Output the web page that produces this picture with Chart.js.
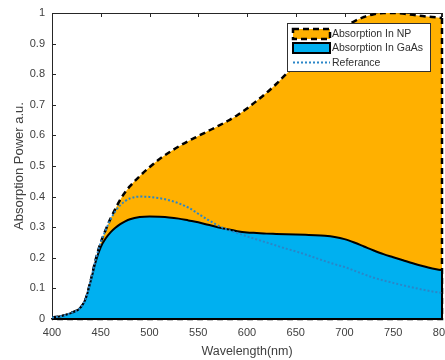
<!DOCTYPE html>
<html>
<head>
<meta charset="utf-8">
<script src="https://cdn.jsdelivr.net/npm/chart.js@4.4.1/dist/chart.umd.min.js"></script>
<style>
  html, body { margin: 0; padding: 0; background: #ffffff; }
  #wrap { width: 445px; height: 360px; }
</style>
</head>
<body>
<div id="wrap"><canvas id="chart" width="445" height="360"></canvas></div>
<script>
// Wavelength grid (nm)
const wavelengths = [400, 410, 420, 430, 435, 440, 445, 450, 455, 460, 465, 470, 475, 480, 490,
  500, 510, 520, 530, 540, 550, 560, 570, 580, 590, 600, 610, 620, 630, 640, 650, 660, 670,
  680, 690, 700, 710, 720, 730, 740, 750, 760, 770, 780, 790, 800];

// Absorbed power in the nanoparticle structure (a.u.)
const absorptionNP = [0.005, 0.010, 0.020, 0.040, 0.070, 0.130, 0.197, 0.250, 0.291, 0.328, 0.360, 0.390, 0.414, 0.434, 0.467,
  0.496, 0.522, 0.544, 0.564, 0.582, 0.598, 0.614, 0.630, 0.647, 0.666, 0.688, 0.713, 0.739, 0.768, 0.800, 0.830, 0.859, 0.887,
  0.913, 0.936, 0.956, 0.973, 0.987, 0.996, 1.000, 1.000, 0.998, 0.994, 0.990, 0.987, 0.984];

// Absorbed power in the GaAs layer (a.u.)
const absorptionGaAs = [0.005, 0.010, 0.020, 0.040, 0.070, 0.128, 0.190, 0.235, 0.263, 0.283, 0.298, 0.310, 0.319, 0.326, 0.333,
  0.335, 0.334, 0.332, 0.328, 0.322, 0.316, 0.308, 0.300, 0.293, 0.287, 0.283, 0.281, 0.279, 0.278, 0.277, 0.276, 0.275, 0.274,
  0.272, 0.268, 0.261, 0.250, 0.237, 0.224, 0.212, 0.202, 0.192, 0.182, 0.173, 0.165, 0.159];

// Reference (bare) absorption (a.u.)
const reference = [0.005, 0.010, 0.020, 0.040, 0.070, 0.130, 0.197, 0.250, 0.290, 0.325, 0.352, 0.372, 0.385, 0.394, 0.400,
  0.399, 0.395, 0.388, 0.378, 0.364, 0.344, 0.324, 0.306, 0.292, 0.281, 0.270, 0.260, 0.250, 0.240, 0.230, 0.221, 0.211, 0.200,
  0.189, 0.179, 0.170, 0.158, 0.146, 0.135, 0.126, 0.118, 0.110, 0.103, 0.096, 0.090, 0.085];

const xTicks = [400, 450, 500, 550, 600, 650, 700, 750, 800];
const yTicks = [0, 0.1, 0.2, 0.3, 0.4, 0.5, 0.6, 0.7, 0.8, 0.9, 1];
const yTickLabels = ['0', '0.1', '0.2', '0.3', '0.4', '0.5', '0.6', '0.7', '0.8', '0.9', '1'];

const ORANGE = '#FFB000';
const BLUE = '#00B0F0';
const DOT_BLUE = '#2A86C8';
const FONT = '"Liberation Sans", Arial, sans-serif';
const TEXT = '#404040';

const toPoints = (vals) => vals.map((v, i) => ({ x: wavelengths[i], y: v }));

// Box, inward ticks and closing edges of the filled areas
const areaFrame = {
  id: 'areaFrame',
  beforeDatasetsDraw(chart) {
    const { ctx, chartArea: a, scales: { x, y } } = chart;
    ctx.save();
    ctx.strokeStyle = '#262626';
    ctx.lineWidth = 1;
    ctx.beginPath();
    ctx.moveTo(a.left, a.top + 0.5); ctx.lineTo(a.right, a.top + 0.5);
    ctx.moveTo(a.right - 0.5, a.top); ctx.lineTo(a.right - 0.5, a.bottom);
    xTicks.forEach(v => {
      const px = Math.round(x.getPixelForValue(v)) + 0.5;
      ctx.moveTo(px, a.top); ctx.lineTo(px, a.top + 4);
      ctx.moveTo(px, a.bottom); ctx.lineTo(px, a.bottom - 4);
    });
    yTicks.forEach(v => {
      const py = Math.round(y.getPixelForValue(v)) + 0.5;
      ctx.moveTo(a.left, py); ctx.lineTo(a.left + 4, py);
      ctx.moveTo(a.right, py); ctx.lineTo(a.right - 4, py);
    });
    ctx.stroke();
    ctx.restore();
  },
  afterDatasetDraw(chart, args) {
    const ds = chart.data.datasets[args.index];
    if (!ds.fill) return;
    const { ctx, scales: { x, y } } = chart;
    const first = ds.data[0];
    const last = ds.data[ds.data.length - 1];
    const px = x.getPixelForValue(last.x);
    const base = y.getPixelForValue(0);
    ctx.save();
    ctx.strokeStyle = ds.borderColor;
    ctx.lineWidth = ds.borderWidth;
    ctx.setLineDash(ds.borderDash || []);
    ctx.beginPath();
    ctx.moveTo(px, y.getPixelForValue(last.y));
    ctx.lineTo(px, base);
    ctx.lineTo(x.getPixelForValue(first.x), base);
    ctx.stroke();
    ctx.restore();
  }
};

// Boxed legend inside the upper right of the plot
const legendBox = {
  id: 'legendBox',
  afterDraw(chart) {
    const { ctx, chartArea: a } = chart;
    const left = a.right - 155, top = a.top + 10, w = 144, h = 49;
    ctx.save();
    ctx.fillStyle = '#ffffff';
    ctx.fillRect(left, top, w, h);
    ctx.strokeStyle = '#303030';
    ctx.lineWidth = 1;
    ctx.setLineDash([]);
    ctx.strokeRect(left + 0.5, top + 0.5, w - 1, h - 1);

    const sx = left + 6, sw = 37;
    const items = chart.data.datasets.slice().reverse();
    const rows = [top + 11, top + 25, top + 39.5];
    items.forEach((ds, i) => {
      const cy = rows[i];
      if (ds.fill) {
        ctx.fillStyle = ds.backgroundColor;
        ctx.fillRect(sx, cy - 5, sw, 10);
        ctx.strokeStyle = ds.borderColor;
        ctx.lineWidth = ds.borderWidth;
        ctx.setLineDash(ds.borderDash || []);
        ctx.strokeRect(sx, cy - 5, sw, 10);
      } else {
        ctx.strokeStyle = ds.borderColor;
        ctx.lineWidth = ds.borderWidth;
        ctx.setLineDash(ds.borderDash || []);
        ctx.beginPath();
        ctx.moveTo(sx, cy); ctx.lineTo(sx + sw, cy);
        ctx.stroke();
      }
      ctx.setLineDash([]);
      ctx.fillStyle = '#303030';
      ctx.font = '10.5px ' + FONT;
      ctx.textBaseline = 'middle';
      ctx.textAlign = 'left';
      ctx.fillText(ds.label, sx + sw + 2, cy + 0.5);
    });
    ctx.restore();
  }
};

new Chart(document.getElementById('chart'), {
  type: 'line',
  data: {
    datasets: [
      {
        label: 'Referance',
        data: toPoints(reference),
        borderColor: DOT_BLUE,
        borderWidth: 2,
        borderDash: [2, 2],
        fill: false,
        pointRadius: 0,
        cubicInterpolationMode: 'monotone'
      },
      {
        label: 'Absorption In GaAs',
        data: toPoints(absorptionGaAs),
        borderColor: '#000000',
        backgroundColor: BLUE,
        borderWidth: 2,
        fill: 'origin',
        pointRadius: 0,
        cubicInterpolationMode: 'monotone'
      },
      {
        label: 'Absorption In NP',
        data: toPoints(absorptionNP),
        borderColor: '#000000',
        backgroundColor: ORANGE,
        borderWidth: 2.5,
        borderDash: [6, 4],
        fill: 'origin',
        pointRadius: 0,
        cubicInterpolationMode: 'monotone'
      }
    ]
  },
  options: {
    responsive: false,
    animation: false,
    devicePixelRatio: 1,
    layout: { padding: { top: 13, right: 3, left: 0, bottom: 0 } },
    plugins: { legend: { display: false }, tooltip: { enabled: false } },
    scales: {
      x: {
        type: 'linear',
        min: 400,
        max: 800,
        z: 1,
        afterBuildTicks: (s) => { s.ticks = xTicks.map(v => ({ value: v })); },
        afterFit: (s) => { s.height = 41; s.paddingLeft = 0; s.paddingRight = 0; },
        grid: { display: false, drawTicks: false },
        border: { display: true, color: '#1a1a1a', width: 1.5 },
        ticks: { color: TEXT, font: { family: FONT, size: 11 }, padding: 7, maxRotation: 0, autoSkip: false },
        title: { display: true, text: 'Wavelength(nm)', color: TEXT, font: { family: FONT, size: 12.5 }, padding: { top: 0, bottom: 1 } }
      },
      y: {
        type: 'linear',
        min: 0,
        max: 1,
        afterBuildTicks: (s) => { s.ticks = yTicks.map(v => ({ value: v })); },
        afterFit: (s) => { s.width = 52; s.paddingTop = 0; s.paddingBottom = 0; },
        grid: { display: false, drawTicks: false },
        border: { display: true, color: '#262626', width: 1 },
        ticks: {
          color: TEXT,
          font: { family: FONT, size: 11 },
          padding: 7,
          callback: (v, i) => yTickLabels[i]
        },
        title: { display: true, text: 'Absorption Power a.u.', color: TEXT, font: { family: FONT, size: 13 }, padding: { top: 12, bottom: 0 } }
      }
    }
  },
  plugins: [areaFrame, legendBox]
});
</script>
</body>
</html>
